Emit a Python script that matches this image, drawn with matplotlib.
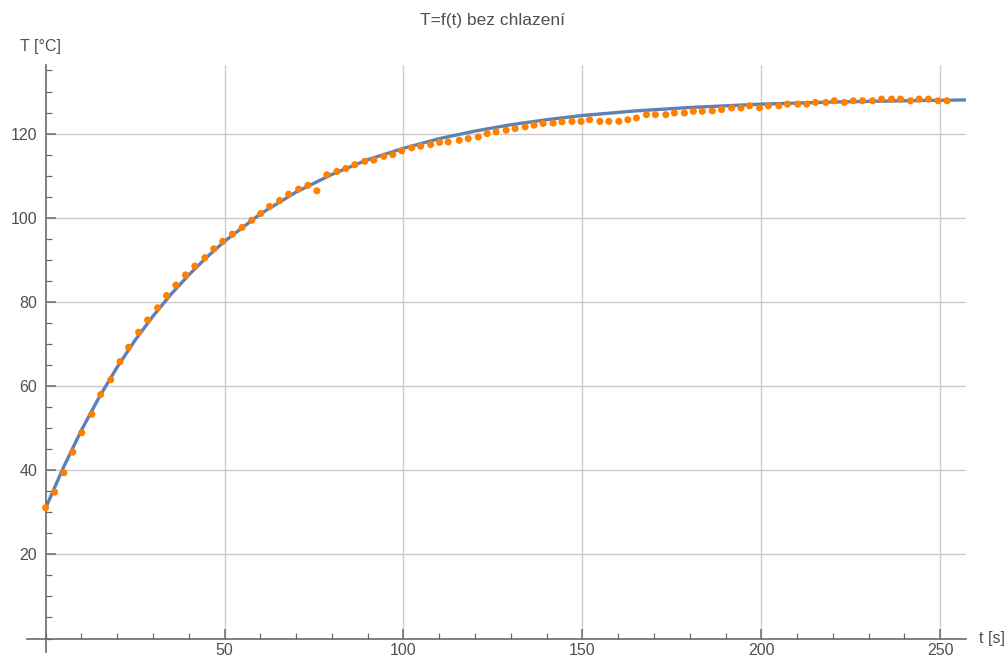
import numpy as np
import matplotlib
matplotlib.use("Agg")
import matplotlib.pyplot as plt
from matplotlib.ticker import MultipleLocator

# ======================
# DATA
# ======================
# measured samples: time [s] and temperature [°C]
t_meas = [0.0, 2.5, 5.1, 7.6, 10.1, 12.9, 15.4, 18.2, 20.8, 23.2,
          26.0, 28.5, 31.3, 33.8, 36.4, 39.1, 41.7, 44.5, 47.0, 49.5,
          52.2, 54.9, 57.6, 60.1, 62.6, 65.4, 67.9, 70.7, 73.3, 75.8,
          78.6, 81.4, 83.9, 86.4, 89.2, 91.7, 94.5, 97.0, 99.5, 102.3,
          104.8, 107.6, 110.1, 112.5, 115.6, 118.1, 120.9, 123.4, 125.9, 128.7,
          131.2, 134.0, 136.5, 139.0, 141.8, 144.3, 147.1, 149.6, 152.0, 154.9,
          157.4, 160.2, 162.7, 165.1, 167.9, 170.4, 173.3, 175.7, 178.5, 181.0,
          183.5, 186.3, 188.9, 191.7, 194.3, 196.7, 199.5, 202.0, 204.9, 207.3,
          210.2, 212.7, 215.1, 218.0, 220.4, 223.2, 225.7, 228.3, 231.1, 233.6,
          236.4, 238.9, 241.7, 244.1, 246.7, 249.4, 251.9]
T_meas = [31.1, 34.8, 39.4, 44.3, 48.9, 53.3, 58.0, 61.5, 65.8, 69.2,
          72.8, 75.7, 78.6, 81.5, 84.0, 86.4, 88.5, 90.5, 92.6, 94.4,
          96.1, 97.7, 99.4, 101.0, 102.7, 104.1, 105.6, 106.8, 107.7, 106.4,
          110.2, 111.0, 111.7, 112.6, 113.4, 113.7, 114.6, 115.0, 115.9, 116.6,
          117.0, 117.4, 117.9, 118.0, 118.4, 118.8, 119.2, 120.0, 120.4, 120.8,
          121.2, 121.6, 122.0, 122.4, 122.5, 122.8, 122.9, 122.9, 123.3, 122.9,
          122.9, 122.9, 123.3, 123.7, 124.5, 124.5, 124.5, 124.9, 124.9, 125.3,
          125.3, 125.4, 125.7, 126.1, 126.1, 126.6, 126.1, 126.6, 126.6, 127.0,
          127.0, 127.0, 127.4, 127.4, 127.8, 127.4, 127.8, 127.8, 127.8, 128.2,
          128.2, 128.2, 127.8, 128.2, 128.2, 127.8, 127.8]

# fitted curve
t_fit = [0, 5, 10, 15, 20, 25, 30, 35, 40, 45, 50, 60, 70, 80, 90, 100,
         110, 120, 130, 140, 150, 165, 180, 200, 220, 240, 257]
T_fit = [31.0, 40.7, 49.5, 57.4, 64.5, 70.9, 76.6, 81.8, 86.4, 90.6, 94.4,
         100.9, 106.1, 110.3, 113.8, 116.5, 118.8, 120.6, 122.1, 123.3, 124.3,
         125.4, 126.2, 127.0, 127.5, 127.8, 128.0]

x_major = [50, 100, 150, 200, 250]
y_major = [20, 40, 60, 80, 100, 120]

title = "T=f(t) bez chlazení"
xlabel = "t [s]"
ylabel = "T [°C]"


def main():
    plt.rcParams['font.family'] = ['Liberation Sans', 'DejaVu Sans']
    text_col = "#505050"
    axis_col = "#6a6a6a"
    grid_col = "#cccccc"

    fig = plt.figure(figsize=(10.08, 6.58), dpi=100)
    W, H = 1008, 658
    # plot box in pixels: left 27, right 966, top 65, bottom 652
    ax = fig.add_axes([27 / W, (H - 652) / H, (966 - 27) / W, (652 - 65) / H])
    xmin, xmax = -5.2, 257.2
    ymin, ymax = -3.2, 136.3
    ax.set_xlim(xmin, xmax)
    ax.set_ylim(ymin, ymax)

    # grid lines only over the data quadrant
    ax.vlines(x_major, 0, ymax, colors=grid_col, linewidth=1.0, zorder=0)
    ax.hlines(y_major, 0, xmax, colors=grid_col, linewidth=1.0, zorder=0)

    # axes through origin
    for side in ("top", "right"):
        ax.spines[side].set_visible(False)
    ax.spines['left'].set_position(('data', 0))
    ax.spines['bottom'].set_position(('data', 0))
    for side in ("left", "bottom"):
        ax.spines[side].set_color(axis_col)
        ax.spines[side].set_linewidth(1.2)

    ax.set_xticks(x_major)
    ax.set_yticks(y_major)
    ax.xaxis.set_minor_locator(MultipleLocator(10))
    ax.yaxis.set_minor_locator(MultipleLocator(5))
    ax.tick_params(which='major', direction='in', length=7, width=1.1,
                   color=axis_col, labelcolor=text_col, labelsize=11.5)
    ax.tick_params(which='minor', direction='in', length=4, width=0.9,
                   color=axis_col)
    ax.tick_params(axis='x', which='major', pad=3)
    ax.tick_params(axis='y', which='major', pad=6)

    # fitted curve + measurements
    ax.plot(t_fit, T_fit, color="#5e81b5", linewidth=2.4, zorder=2,
            solid_capstyle='round', solid_joinstyle='round')
    ax.scatter(t_meas, T_meas, s=26, color="#ff8000", edgecolors='none',
               zorder=3, clip_on=False)

    # labels
    fig.text(979 / W, 1 - 639 / H, xlabel, ha='left', va='center',
             color=text_col, fontsize=11.5)
    fig.text(20 / W, 1 - 47 / H, ylabel, ha='left', va='center',
             color=text_col, fontsize=11.5)
    fig.text(492 / W, 1 - 20 / H, title, ha='center', va='center',
             color=text_col, fontsize=12.5)

    fig.savefig("out.png", dpi=100)
    plt.close(fig)


if __name__ == "__main__":
    main()
